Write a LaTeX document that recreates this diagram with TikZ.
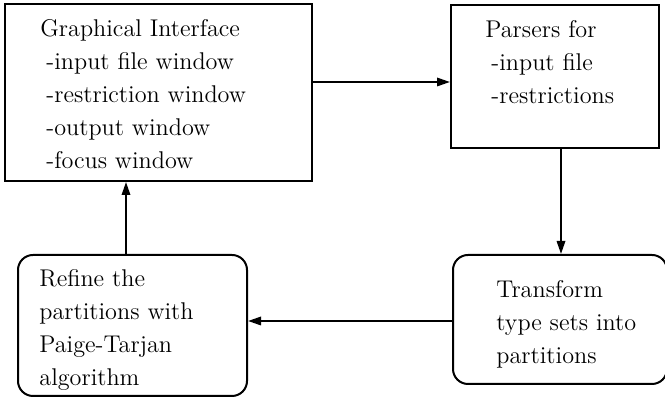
\documentclass[tikz,border=0pt]{standalone}
\usetikzlibrary{arrows.meta}
\begin{document}
\begin{tikzpicture}[x=0.5pt,y=-0.5pt,
  plainbox/.style={draw,line width=1pt,inner sep=0pt},
  roundbox/.style={plainbox,rounded corners=7.5pt},
  flow/.style={line width=1pt,-{Triangle[length=6.5pt,width=4.2pt]}},
  label/.style={anchor=base west,inner sep=0pt,align=left,
    font=\fontsize{12.1}{16.5}\selectfont}]
\useasboundingbox (0,0) rectangle (665,399);
\clip (0,0) rectangle (665,399);

% boxes
\node[plainbox,minimum width=153.5pt,minimum height=88.5pt] (gui) at (158.5,92.5) {};
\node[plainbox,minimum width=104pt,minimum height=71.5pt] (parse) at (555,76.5) {};
\node[roundbox,minimum width=114.5pt,minimum height=70.5pt] (refine) at (132.5,325.5) {};
\node[roundbox,minimum width=107pt,minimum height=64.5pt] (trans) at (560,319.5) {};

% texts (anchored at the baseline of their last line)
\node[label] (guitext) at (40,169) {Graphical Interface\\
\hspace*{0.25em}-input file window\\
\hspace*{0.25em}-restriction window\\
\hspace*{0.25em}-output window\\
\hspace*{0.25em}-focus window};
\node[label] (parsetext) at (485,104) {Parsers for\\
\hspace*{0.25em}-input file\\
\hspace*{0.25em}-restrictions};
\node[label] (refinetext) at (39,386) {Refine the\\
partitions with\\
Paige-Tarjan\\
algorithm};
\node[label] (transtext) at (496,364) {Transform\\
type sets into\\
partitions};

% connectors
\draw[flow] (gui.east |- 0,82) -- (parse.west |- 0,82);
\draw[flow] (parse.south -| 561,0) -- (trans.north -| 561,0);
\draw[flow] (trans.west |- 0,321) -- (refine.east |- 0,321);
\draw[flow] (refine.north -| 126,0) -- (gui.south -| 126,0);
\end{tikzpicture}
\end{document}
